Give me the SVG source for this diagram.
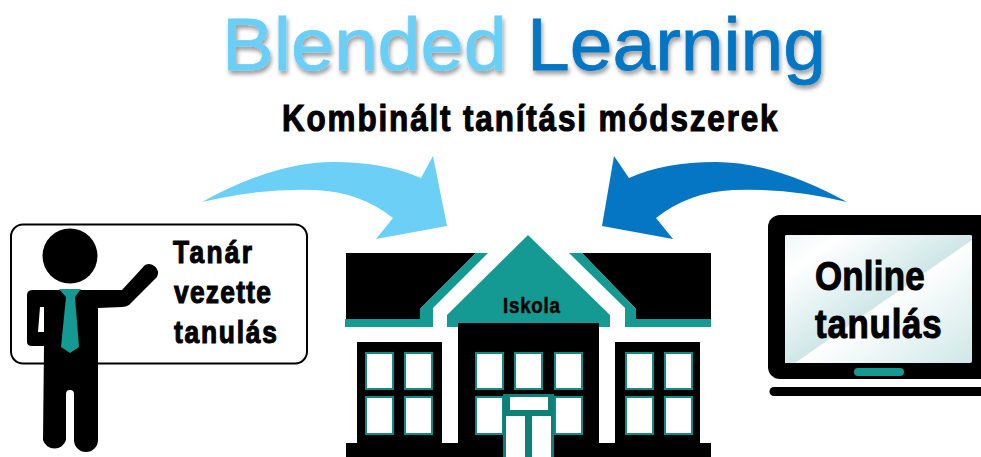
<svg xmlns="http://www.w3.org/2000/svg" width="981" height="457" viewBox="0 0 981 457">
<style>
.ttl{font-family:"Liberation Sans",Arial,sans-serif;font-size:75px;stroke-width:.8px;filter:url(#sh)}
.b{font-family:"Liberation Sans",Arial,sans-serif;font-weight:700;fill:#000;stroke:#000;stroke-width:1.1px}
.teal{fill:#149a92}
.win{fill:#fff;stroke:#0f8a84;stroke-width:2px}
</style>
<defs>
<filter id="sh" x="-5%" y="-20%" width="110%" height="150%"><feDropShadow dx="1.5" dy="3.5" stdDeviation="2" flood-color="#000" flood-opacity=".4"/></filter>
<linearGradient id="g1" gradientUnits="userSpaceOnUse" x1="785" y1="235" x2="848.500" y2="325"><stop offset="0" stop-color="#eef7f7"/><stop offset=".3" stop-color="#fff"/><stop offset="1" stop-color="#cfe7e7"/></linearGradient>
<linearGradient id="g2" gradientUnits="userSpaceOnUse" x1="913" y1="279.500" x2="972" y2="363"><stop offset="0" stop-color="#fff"/><stop offset="1" stop-color="#cfe7e7"/></linearGradient>
</defs>
<g id="title">
<text class="ttl" x="222" y="70" fill="#6bcff6" stroke="#6bcff6" textLength="285" lengthAdjust="spacingAndGlyphs">Blended</text>
<text class="ttl" x="527" y="70" fill="#0476c4" stroke="#0476c4" textLength="299" lengthAdjust="spacingAndGlyphs">Learning</text>
</g>
<text id="subtitle" class="b" transform="translate(282 131) scale(.85 1)" font-size="37" textLength="583" lengthAdjust="spacing">Kombinált tanítási módszerek</text>
<g id="connectors">
<path fill="#6bcff6" d="M202 202Q275 162 333 162Q385 162 421 178L433 156L447 226L376 239L393 218Q360 192 316 190Q260 188 202 202Z"/>
<path fill="#0476c4" d="M847 202Q774 162 716 162Q664 162 629 178L614 156L602 226L673 239L656 218Q689 192 733 190Q789 188 847 202Z"/>
</g>
<g id="teacher">
<rect x="11" y="224.500" width="296" height="139" rx="12" fill="#fff" stroke="#000" stroke-width="2"/>
<text class="b" transform="translate(173 263) scale(.85 1)" font-size="31" textLength="93" lengthAdjust="spacing">Tanár</text>
<text class="b" transform="translate(174 303) scale(.85 1)" font-size="31" textLength="114" lengthAdjust="spacing">vezette</text>
<text class="b" transform="translate(174 343) scale(.85 1)" font-size="31" textLength="121" lengthAdjust="spacing">tanulás</text>
<circle cx="70" cy="256" r="27.500"/>
<path d="M33 290H122L145 265A9 9 0 0 1 157 277L129 305Q126 307 122 307L98 308V440A12 12 0 0 1 74 440V394A4 4 0 0 0 66 394V440A12 12 0 0 1 43 440L44 346H32Q27 346 27 342V295Q27 290 33 290ZM40 307L38 332H44V307Z" fill-rule="evenodd"/>
<path class="teal" d="M59 289H81L75 297L79 347L70 353L61 347L66 297Z"/>
</g>
<g id="school">
<path d="M346 253H476L420 309V319H346Z"/>
<path d="M582 253H711V319H636V309Z"/>
<path class="teal" d="M476 253H488L433 308V327H345V319H420V309Z"/>
<path class="teal" d="M569 253H582L636 309V319H711V327H625V308Z"/>
<path class="teal" d="M528 235L610 315V327H447V315Z"/>
<path d="M458 323H599V443H615V342H700V443H711V457H346V443H357V342H442V443H458Z"/>
<text class="b" transform="translate(503 313) scale(.85 1)" font-size="22" textLength="67" lengthAdjust="spacing" style="stroke-width:.5px">Iskola</text>
<g>
<rect class="win" x="366" y="353" width="27" height="36"/><rect class="win" x="405" y="353" width="27" height="36"/>
<rect class="win" x="366" y="397" width="27" height="37"/><rect class="win" x="405" y="397" width="27" height="37"/>
<rect class="win" x="476" y="353" width="27" height="36"/><rect class="win" x="515" y="353" width="27" height="36"/><rect class="win" x="555" y="353" width="27" height="36"/>
<rect class="win" x="476" y="397" width="27" height="37"/><rect class="win" x="555" y="397" width="27" height="37"/>
<rect class="win" x="626" y="353" width="27" height="36"/><rect class="win" x="665" y="353" width="27" height="36"/>
<rect class="win" x="626" y="397" width="27" height="37"/><rect class="win" x="665" y="397" width="27" height="37"/>
</g>
<path fill="#0f8078" d="M503 394H554V457H503Z"/>
<rect x="510" y="397" width="38" height="13" fill="#fff"/>
<rect x="506" y="416" width="19" height="41" fill="#fff"/>
<rect x="532" y="416" width="19" height="41" fill="#fff"/>
</g>
<g id="laptop">
<path d="M981 215H780A12 12 0 0 0 768 227V367A12 12 0 0 0 780 379H981Z"/>
<rect x="785" y="235" width="187" height="128" rx="2" fill="url(#g2)"/>
<path d="M787 235H970Q972 235 972 237V240L795 363H785V237Q785 235 787 235Z" fill="url(#g1)"/>
<rect x="854" y="368" width="50" height="8" rx="4" class="teal"/>
<path d="M774 387H981V396H774A4.500 4.500 0 0 1 774 387Z"/>
<text class="b" transform="translate(815 290) scale(.85 1)" font-size="41" textLength="129" lengthAdjust="spacing">Online</text>
<text class="b" transform="translate(815 338) scale(.85 1)" font-size="41" textLength="149" lengthAdjust="spacing">tanulás</text>
</g>
</svg>
